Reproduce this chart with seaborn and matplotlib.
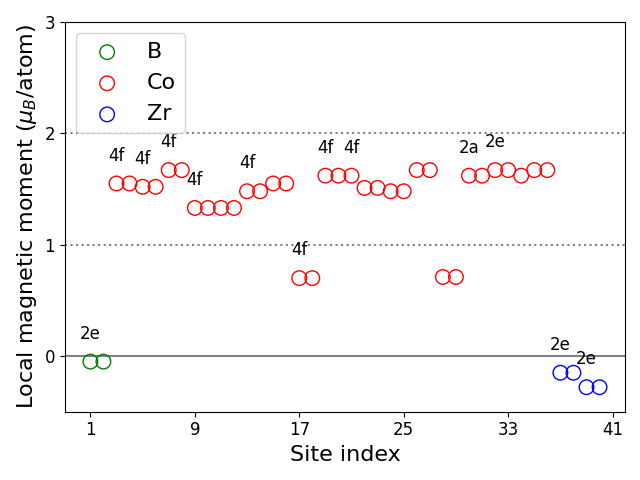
import numpy as np
import pandas as pd
import seaborn as sns
import matplotlib.pyplot as plt

# site-resolved moments
site = list(range(1, 41))
element = ["B"] * 2 + ["Co"] * 34 + ["Zr"] * 4
moment = [-0.05, -0.05,
          1.55, 1.55, 1.52, 1.52, 1.67, 1.67, 1.33, 1.33, 1.33, 1.33,
          1.48, 1.48, 1.55, 1.55, 0.70, 0.70, 1.62, 1.62, 1.62, 1.51,
          1.51, 1.48, 1.48, 1.67, 1.67, 0.71, 0.71, 1.62, 1.62, 1.67,
          1.67, 1.62, 1.67, 1.67,
          -0.15, -0.15, -0.28, -0.28]

# Wyckoff labels put above the first site of each group
label_site = [1, 3, 5, 7, 9, 13, 17, 19, 21, 30, 32, 37, 39]
label_text = ["2e", "4f", "4f", "4f", "4f", "4f", "4f", "4f", "4f", "2a", "2e", "2e", "2e"]

colors = {"B": "green", "Co": "red", "Zr": "blue"}

df = pd.DataFrame({"site": site, "element": element, "moment": moment})

fig, ax = plt.subplots(figsize=(6.4, 4.8))

ax.axhline(0, color="gray", lw=1.5, zorder=0)
ax.axhline(1, color="gray", ls=":", lw=1.5, zorder=0)
ax.axhline(2, color="gray", ls=":", lw=1.5, zorder=0)

for el in ["B", "Co", "Zr"]:
    sub = df[df["element"] == el]
    sns.scatterplot(data=sub, x="site", y="moment", color=colors[el],
                    s=110, label=el, ax=ax, linewidth=1)
    coll = ax.collections[-1]
    coll.set_edgecolors(colors[el])
    coll.set_facecolors("none")

for s_, t in zip(label_site, label_text):
    ax.text(s_, moment[s_ - 1] + 0.25, t, ha="center", va="center", fontsize=12)

ax.set_xlim(-0.95, 41.95)
ax.set_ylim(-0.5, 3)
ax.set_xticks(range(1, 42, 8))
ax.set_yticks([0, 1, 2, 3])
ax.tick_params(labelsize=12)
ax.set_xlabel("Site index", fontsize=16)
ax.set_ylabel(r"Local magnetic moment ($\mu_B$/atom)", fontsize=16)
ax.legend(loc="upper left", fontsize=16)

fig.tight_layout()
fig.savefig("out.png", dpi=100)
